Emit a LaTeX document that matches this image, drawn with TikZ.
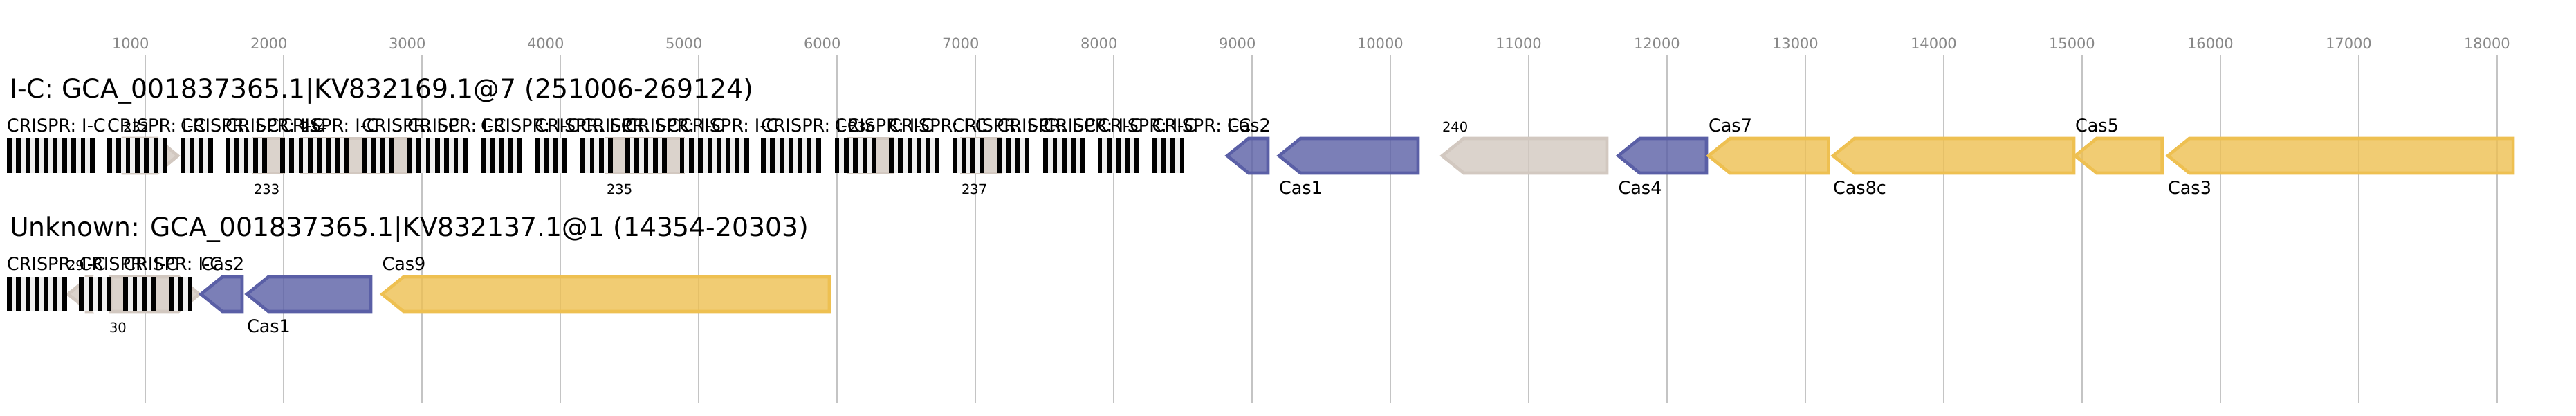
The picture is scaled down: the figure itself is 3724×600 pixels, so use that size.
\documentclass[tikz,border=0pt]{standalone}
\usepackage{fontspec}
\setmainfont{DejaVu Sans}
\definecolor{casblue}{HTML}{5A5FA6}
\definecolor{casyel}{HTML}{EEC051}
\definecolor{unk}{HTML}{D2C8C0}
\definecolor{spc}{HTML}{EFEFEF}
\definecolor{tickc}{HTML}{C4C4C4}
\definecolor{ticklabc}{HTML}{888888}
\tikzset{
  gene/.style={line width=2.3pt, line join=miter, fill opacity=0.8},
  gblue/.style={gene, draw=casblue, fill=casblue},
  gyel/.style={gene, draw=casyel, fill=casyel},
  gunk/.style={gene, draw=unk, fill=unk},
  lab/.style={inner sep=0pt, outer sep=0pt, anchor=base west, font=\fontsize{12.75}{15}\selectfont},
  numlab/.style={lab, font=\fontsize{9.75}{12}\selectfont},
  ttl/.style={lab, font=\fontsize{18.85}{22}\selectfont},
  ticklab/.style={lab, text=ticklabc, font=\fontsize{10.5}{12}\selectfont},
  tickline/.style={draw=tickc, line width=1pt}
}
% left-pointing gene: tip x, right x, top y
\newcommand\LGene[4]{\draw[#4] (#1,#3+25) -- (#1+31,#3) -- (#2,#3) -- (#2,#3+50) -- (#1+31,#3+50) -- cycle;}
% right-pointing gene: left x, tip x, top y
\newcommand\RGene[4]{\draw[#4] (#1,#3) -- (#2-30,#3) -- (#2,#3+25) -- (#2-30,#3+50) -- (#1,#3+50) -- cycle;}
% CRISPR array bars: start x, repeats, top y
\newcommand\CRbars[3]{%
  \fill[spc] (#1,#3) rectangle ++({(2*#2-1)*6.667},50);
  \foreach \k in {1,...,#2}{\fill[black] ({#1+(\k-1)*13.333},#3) rectangle ++(6.667,50);}%
}
% CRISPR array with label: start x, repeats, top y, name
\newcommand\CRarray[4]{%
  \CRbars{#1}{#2}{#3}%
  \node[lab] (#4) at (#1,#3-10) {CRISPR: I-C};%
}
\begin{document}
\begin{tikzpicture}[x=0.5pt,y=-0.5pt]
\useasboundingbox[fill=white] (0,0) rectangle (3724,600);
% axis
\foreach \i in {1,...,18}{
  \draw[tickline] ({10+200*\i},80) -- ({10+200*\i},582);
  \node[ticklab] (t\i) at ({10+200*\i-48},70) {\i000};
}
% titles
\node[ttl] (title1) at (14,141.7) {I-C: GCA\_001837365.1|KV832169.1@7 (251006-269124)};
\node[ttl] (title2) at (14,341.7) {Unknown: GCA\_001837365.1|KV832137.1@1 (14354-20303)};
% ---------- row 1 hidden unknown genes ----------
\RGene{178}{257}{200}{gunk}
\draw[gunk] (367,200) rectangle (410,250);
\draw[gunk] (435,200) rectangle (594,250);
\draw[gunk] (877,200) rectangle (988,250);
\draw[gunk] (1227,200) rectangle (1290,250);
\draw[gunk] (1390,200) rectangle (1447,250);
% ---------- row 2 hidden unknown genes ----------
\LGene{98.5}{125}{400}{gunk}
\RGene{160}{288}{400}{gunk}
% ---------- row 1 CRISPR arrays ----------
\CRarray{10}{10}{200}{a1}
\CRarray{155}{7}{200}{a2}
\CRarray{261}{4}{200}{a3}
\CRarray{326}{5}{200}{a4}
\CRarray{405}{8}{200}{a5}
\CRarray{523}{4}{200}{a6}
\CRarray{589}{7}{200}{a7}
\CRarray{695}{5}{200}{a8}
\CRarray{773}{4}{200}{a9}
\CRarray{839.3}{4}{200}{a10}
\CRarray{904}{5}{200}{a11}
\CRarray{982.7}{8}{200}{a12}
\CRarray{1100}{7}{200}{a13}
\CRarray{1206.7}{5}{200}{a14}
\CRarray{1285}{6}{200}{a15}
\CRarray{1376.7}{4}{200}{a16}
\CRarray{1441.7}{4}{200}{a17}
\CRarray{1508.3}{5}{200}{a18}
\CRarray{1586.7}{5}{200}{a19}
\CRarray{1665.7}{4}{200}{a20}
% ---------- row 2 CRISPR arrays ----------
\CRarray{10}{7}{400}{b1}
\CRarray{114.3}{4}{400}{b2}
\CRarray{178.3}{4}{400}{b3}
\CRbars{245}{3}{400}
% ---------- row 1 cas genes ----------
\LGene{1774}{1833}{200}{gblue}
\LGene{1849}{2050}{200}{gblue}
\LGene{2085}{2323}{200}{gunk}
\LGene{2339.5}{2467}{200}{gblue}
\LGene{2470}{2643.5}{200}{gyel}
\LGene{2650}{2998}{200}{gyel}
\LGene{3000}{3125.6}{200}{gyel}
\LGene{3134}{3633}{200}{gyel}
% ---------- row 2 cas genes ----------
\LGene{290.5}{350}{400}{gblue}
\LGene{357}{536}{400}{gblue}
\LGene{552.5}{1199}{400}{gyel}
% ---------- row 1 labels ----------
\node[numlab] (l232) at (178,190) {232};
\node[numlab] (l233) at (367,280) {233};
\node[numlab] (l234) at (435,190) {234};
\node[numlab] (l235) at (877,280) {235};
\node[numlab] (l236) at (1227,190) {236};
\node[numlab] (l237) at (1390,280) {237};
\node[lab] (lcas2a) at (1774,190) {Cas2};
\node[lab] (lcas1a) at (1849,280) {Cas1};
\node[numlab] (l240) at (2085,190) {240};
\node[lab] (lcas4) at (2339.5,280) {Cas4};
\node[lab] (lcas7) at (2470,190) {Cas7};
\node[lab] (lcas8c) at (2650,280) {Cas8c};
\node[lab] (lcas5) at (3000,190) {Cas5};
\node[lab] (lcas3) at (3134,280) {Cas3};
% ---------- row 2 labels ----------
\node[numlab] (l29) at (97,390) {29};
\node[numlab] (l30) at (158,480) {30};
\node[lab] (lcas2b) at (290.5,390) {Cas2};
\node[lab] (lcas1b) at (357,480) {Cas1};
\node[lab] (lcas9) at (552.5,390) {Cas9};
\end{tikzpicture}
\end{document}
